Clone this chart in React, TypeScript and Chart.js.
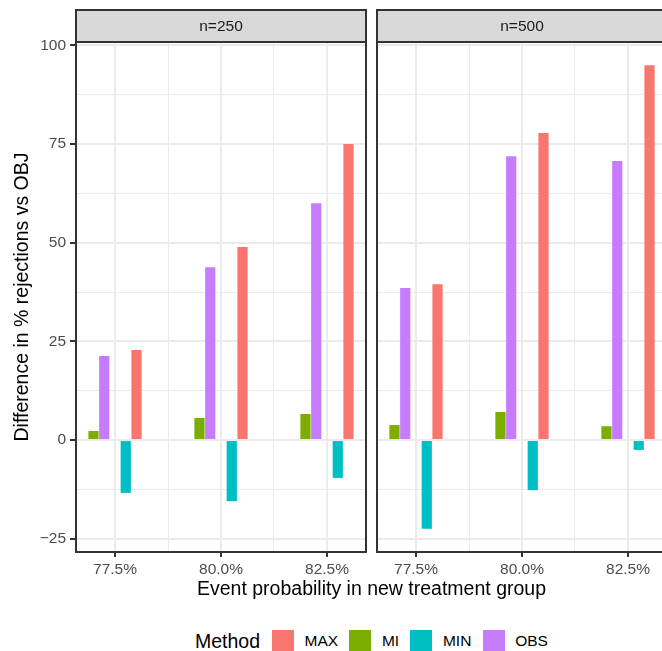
import React, { useEffect, useRef } from 'react';
import { Chart, registerables } from 'chart.js';

Chart.register(...registerables);

const FONT = "'Liberation Sans', Arial, Helvetica, sans-serif";

// ---------- data ----------
const eventProbabilities = [77.5, 80.0, 82.5];
const panelNames = ['n=250', 'n=500'];
const methodNames = ['MAX', 'MI', 'MIN', 'OBS'];
const methodColors = ['#F8766D', '#7CAE00', '#00BFC4', '#C77CFF'];

const maxN250 = [22.8, 48.9, 75.0];
const miN250 = [2.3, 5.6, 6.6];
const minN250 = [-13.4, -15.5, -9.6];
const obsN250 = [21.3, 43.8, 60.0];

const maxN500 = [39.5, 77.8, 95.0];
const miN500 = [3.8, 7.1, 3.5];
const minN500 = [-22.5, -12.7, -2.5];
const obsN500 = [38.5, 71.9, 70.7];

const yTickValues = [-25, 0, 25, 50, 75, 100];
const xTickValues = [77.5, 80.0, 82.5];
const xLimits = [76.58, 83.42];

// dodge order inside each group (null = empty slot)
const dodgeOrder = ['MI', 'OBS', null, 'MIN', 'MAX'];

const panelSeries = [
  { MAX: maxN250, MI: miN250, MIN: minN250, OBS: obsN250 },
  { MAX: maxN500, MI: miN500, MIN: minN500, OBS: obsN500 },
];

// ---------- derived ----------
const allValues = [...maxN250, ...miN250, ...minN250, ...obsN250, ...maxN500, ...miN500, ...minN500, ...obsN500, 0];
const yLo = Math.min(...allValues);
const yHi = Math.max(...allValues);
const yPad = (yHi - yLo) * 0.05;
const Y_MIN = yLo - yPad;
const Y_MAX = yHi + yPad;

const midpoints = (a: number[]) => a.slice(0, -1).map((v, i) => (v + a[i + 1]) / 2);
const yAllTicks = [...yTickValues, ...midpoints(yTickValues)].sort((a, b) => a - b);
const xAllTicks = [...xTickValues, ...midpoints(xTickValues)].sort((a, b) => a - b);

const isIn = (arr: number[], v: number) => arr.some((a) => Math.abs(a - v) < 1e-6);

const GRID = '#EBEBEB';
const DARK = '#333333';
const TICK_TEXT = '#4D4D4D';

const buildDatasets = (series: any) =>
  dodgeOrder.map((name) => {
    if (!name) {
      return { label: '', data: [], backgroundColor: 'rgba(0,0,0,0)', borderWidth: 0, categoryPercentage: 1.015, barPercentage: 0.95 };
    }
    const idx = methodNames.indexOf(name);
    return {
      label: name,
      data: eventProbabilities.map((x, i) => ({ x, y: series[name][i] })),
      backgroundColor: methodColors[idx],
      borderWidth: 0,
      categoryPercentage: 1.015,
      barPercentage: 0.95,
    };
  });

const framePlugin = {
  id: 'panelFrame',
  afterDraw(chart: any, _args: any, opts: any) {
    const { ctx, chartArea } = chart;
    const { left, right, top, bottom } = chartArea;
    ctx.save();
    // strip
    ctx.fillStyle = '#D9D9D9';
    ctx.fillRect(left, 10, right - left, top - 10);
    ctx.strokeStyle = DARK;
    ctx.lineWidth = 2;
    ctx.strokeRect(left, 10, right - left, top - 10);
    ctx.fillStyle = '#1A1A1A';
    ctx.font = `15.5px ${FONT}`;
    ctx.textAlign = 'center';
    ctx.textBaseline = 'middle';
    ctx.fillText(opts.label, (left + right) / 2, (10 + top) / 2 + 1);
    // panel border
    ctx.strokeRect(left, top, right - left, bottom - top);
    ctx.restore();
  },
};

const makeChart = (canvas: HTMLCanvasElement, panelIndex: number) => {
  const showY = panelIndex === 0;
  return new Chart(canvas, {
    type: 'bar',
    data: { datasets: buildDatasets(panelSeries[panelIndex]) as any },
    options: {
      responsive: false,
      animation: false,
      layout: { padding: { top: 42, right: showY ? 4 : 10, left: showY ? 0 : 10, bottom: 0 } },
      plugins: {
        legend: { display: false },
        tooltip: { enabled: false },
        panelFrame: { label: panelNames[panelIndex] },
      } as any,
      scales: {
        x: {
          type: 'linear',
          min: xLimits[0],
          max: xLimits[1],
          offset: false,
          afterBuildTicks: (s: any) => {
            s.ticks = xAllTicks.map((v) => ({ value: v }));
          },
          afterFit: (s: any) => {
            s.height = 40;
          },
          grid: {
            offset: false,
            color: GRID,
            lineWidth: (c: any) => (c.tick && isIn(xTickValues, c.tick.value) ? 2 : 1),
            drawTicks: true,
            tickLength: 5,
            tickWidth: 2,
            tickColor: (c: any) => (c.tick && isIn(xTickValues, c.tick.value) ? DARK : 'rgba(0,0,0,0)'),
          },
          border: { display: false },
          ticks: {
            autoSkip: false,
            maxRotation: 0,
            minRotation: 0,
            padding: 3.5,
            color: TICK_TEXT,
            font: { family: FONT, size: 15.5 },
            callback: (v: any) => (isIn(xTickValues, Number(v)) ? `${Number(v).toFixed(1)}%` : ''),
          },
        },
        y: {
          type: 'linear',
          min: Y_MIN,
          max: Y_MAX,
          afterBuildTicks: (s: any) => {
            s.ticks = yAllTicks.map((v) => ({ value: v }));
          },
          afterFit: (s: any) => {
            s.width = showY ? 76 : 0;
          },
          grid: {
            color: GRID,
            lineWidth: (c: any) => (c.tick && isIn(yTickValues, c.tick.value) ? 2 : 1),
            drawTicks: showY,
            tickLength: 6,
            tickWidth: 2,
            tickColor: (c: any) => (c.tick && isIn(yTickValues, c.tick.value) ? DARK : 'rgba(0,0,0,0)'),
          },
          border: { display: false },
          ticks: {
            display: showY,
            autoSkip: false,
            padding: 4,
            color: TICK_TEXT,
            font: { family: FONT, size: 15.5 },
            callback: (v: any) => {
              const n = Number(v);
              if (!isIn(yTickValues, n)) return '';
              return n < 0 ? `\u2212${Math.abs(n)}` : String(n);
            },
          },
          title: {
            display: showY,
            text: 'Difference in % rejections vs OBJ',
            color: '#000000',
            font: { family: FONT, size: 19.5 },
            padding: { top: 10.5, bottom: 0 },
          },
        },
      },
    } as any,
    plugins: [framePlugin],
  });
};

export default function App() {
  const ref1 = useRef<HTMLCanvasElement>(null);
  const ref2 = useRef<HTMLCanvasElement>(null);

  useEffect(() => {
    const c1 = makeChart(ref1.current!, 0);
    const c2 = makeChart(ref2.current!, 1);
    return () => {
      c1.destroy();
      c2.destroy();
    };
  }, []);

  return (
    <div
      style={{
        position: 'absolute',
        left: 0,
        top: 0,
        width: 662,
        height: 651,
        overflow: 'hidden',
        background: '#ffffff',
        fontFamily: FONT,
      }}
    >
      <canvas ref={ref1} width={370} height={592} style={{ position: 'absolute', left: 0, top: 0, width: 370, height: 592 }} />
      <canvas ref={ref2} width={310} height={592} style={{ position: 'absolute', left: 367, top: 0, width: 310, height: 592 }} />
      <div
        style={{
          position: 'absolute',
          left: 0,
          top: 577,
          width: 743,
          textAlign: 'center',
          fontSize: 19.5,
          lineHeight: '22px',
          color: '#000',
          whiteSpace: 'nowrap',
        }}
      >
        Event probability in new treatment group
      </div>
      <div
        style={{
          position: 'absolute',
          left: 195,
          top: 630,
          height: 22,
          display: 'flex',
          alignItems: 'center',
          whiteSpace: 'nowrap',
        }}
      >
        <span style={{ fontSize: 19.5, lineHeight: '22px', color: '#000', marginRight: 12 }}>Method</span>
        {methodNames.map((m, i) => (
          <React.Fragment key={m}>
            <span style={{ display: 'inline-block', width: 22, height: 22, background: methodColors[i], marginRight: 10.5 }} />
            <span style={{ fontSize: 15.5, lineHeight: '22px', color: '#000', marginRight: 11.3 }}>{m}</span>
          </React.Fragment>
        ))}
      </div>
    </div>
  );
}
